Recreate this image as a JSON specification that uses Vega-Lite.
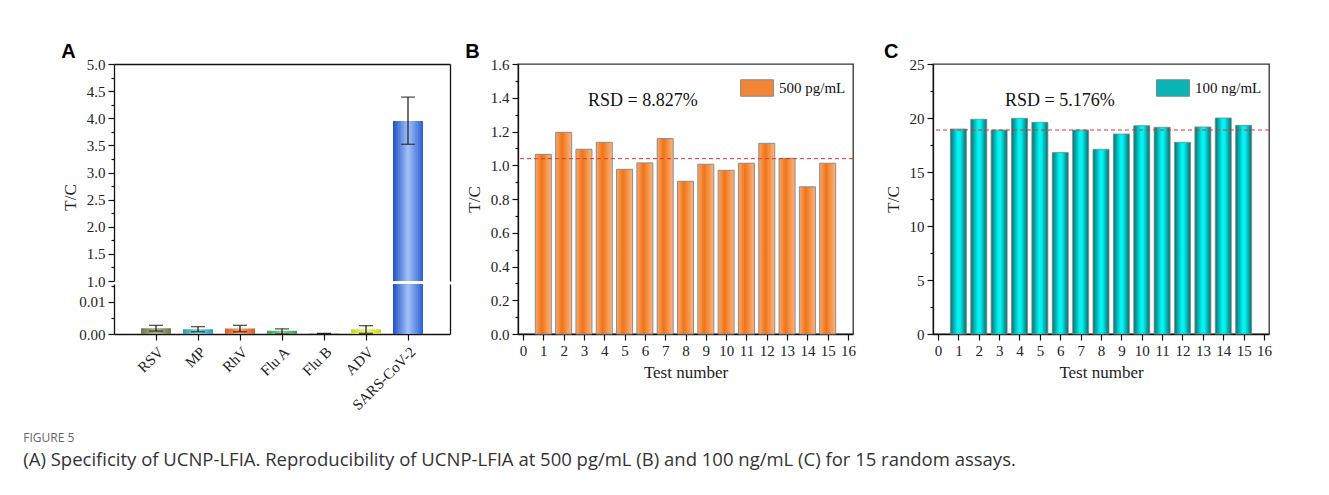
{
  "$schema": "https://vega.github.io/schema/vega-lite/v6.json",
  "background": "white",
  "padding": {"left": 23, "top": 41, "right": 10, "bottom": 10},
  "config": {
    "view": {"stroke": null},
    "font": "Liberation Serif",
    "axis": {"grid": false, "labelOverlap": false, "domainColor": "#111", "domainWidth": 1.3, "tickColor": "#111", "tickWidth": 1.2, "tickSize": 6, "labelFont": "Liberation Serif", "labelFontSize": 15, "labelColor": "#222", "labelPadding": 3, "titleFont": "Liberation Serif", "titleFontSize": 17, "titleFontWeight": "normal", "titleColor": "#222", "titlePadding": 7},
    "title": {"font": "Liberation Sans", "fontSize": 20, "fontWeight": "bold", "color": "#000", "anchor": "start", "frame": "bounds", "offset": -5}
  },
  "title": {
    "text": "FIGURE 5",
    "subtitle": "(A) Specificity of UCNP-LFIA. Reproducibility of UCNP-LFIA at 500 pg/mL (B) and 100 ng/mL (C) for 15 random assays.",
    "orient": "bottom", "anchor": "start", "frame": "bounds", "dx": -38, "offset": 20,
    "font": "Open Sans", "fontSize": 12, "fontWeight": "normal", "color": "#666",
    "subtitleFont": "Open Sans", "subtitleFontSize": 18.5, "subtitleColor": "#333", "subtitlePadding": 6
  },
  "resolve": {"scale": {"color": "independent"}, "legend": {"color": "independent"}},
  "datasets": {
    "a": [
      {"virus": "RSV", "tc": 0.0018, "lo": 0.0009, "hi": 0.0027},
      {"virus": "MP", "tc": 0.0015, "lo": 0.0007, "hi": 0.0023},
      {"virus": "RhV", "tc": 0.0017, "lo": 0.0007, "hi": 0.0027},
      {"virus": "Flu A", "tc": 0.0010, "lo": 0.0000, "hi": 0.0016},
      {"virus": "Flu B", "tc": 0.0001, "lo": 0.0000, "hi": 0.0002},
      {"virus": "ADV", "tc": 0.0015, "lo": 0.0002, "hi": 0.0026},
      {"virus": "SARS-CoV-2", "tc": 3.95, "lo": 3.52, "hi": 4.39}
    ],
    "b": [
      {"test": 1, "tc": 1.065, "series": "500 pg/mL"},
      {"test": 2, "tc": 1.195, "series": "500 pg/mL"},
      {"test": 3, "tc": 1.095, "series": "500 pg/mL"},
      {"test": 4, "tc": 1.136, "series": "500 pg/mL"},
      {"test": 5, "tc": 0.976, "series": "500 pg/mL"},
      {"test": 6, "tc": 1.014, "series": "500 pg/mL"},
      {"test": 7, "tc": 1.158, "series": "500 pg/mL"},
      {"test": 8, "tc": 0.905, "series": "500 pg/mL"},
      {"test": 9, "tc": 1.006, "series": "500 pg/mL"},
      {"test": 10, "tc": 0.970, "series": "500 pg/mL"},
      {"test": 11, "tc": 1.012, "series": "500 pg/mL"},
      {"test": 12, "tc": 1.130, "series": "500 pg/mL"},
      {"test": 13, "tc": 1.041, "series": "500 pg/mL"},
      {"test": 14, "tc": 0.872, "series": "500 pg/mL"},
      {"test": 15, "tc": 1.012, "series": "500 pg/mL"}
    ],
    "c": [
      {"test": 1, "tc": 18.98, "series": "100 ng/mL"},
      {"test": 2, "tc": 19.88, "series": "100 ng/mL"},
      {"test": 3, "tc": 18.89, "series": "100 ng/mL"},
      {"test": 4, "tc": 19.97, "series": "100 ng/mL"},
      {"test": 5, "tc": 19.60, "series": "100 ng/mL"},
      {"test": 6, "tc": 16.80, "series": "100 ng/mL"},
      {"test": 7, "tc": 18.89, "series": "100 ng/mL"},
      {"test": 8, "tc": 17.10, "series": "100 ng/mL"},
      {"test": 9, "tc": 18.52, "series": "100 ng/mL"},
      {"test": 10, "tc": 19.29, "series": "100 ng/mL"},
      {"test": 11, "tc": 19.14, "series": "100 ng/mL"},
      {"test": 12, "tc": 17.75, "series": "100 ng/mL"},
      {"test": 13, "tc": 19.17, "series": "100 ng/mL"},
      {"test": 14, "tc": 20.00, "series": "100 ng/mL"},
      {"test": 15, "tc": 19.32, "series": "100 ng/mL"}
    ]
  },
  "spacing": 14,
  "hconcat": [
    {
      "title": {"text": "A"},
      "spacing": 3,
      "bounds": "flush",
      "vconcat": [
        {
          "width": 336, "height": 217,
          "data": {"name": "a"},
          "transform": [{"filter": "datum.virus === 'SARS-CoV-2'"}],
          "encoding": {
            "x": {"field": "virus", "type": "nominal", "sort": null,
              "scale": {"domain": ["RSV", "MP", "RhV", "Flu A", "Flu B", "ADV", "SARS-CoV-2"], "paddingInner": 0.286, "paddingOuter": 0.643},
              "axis": {"orient": "top", "labels": false, "ticks": false, "title": null}}
          },
          "layer": [
            {
              "mark": {"type": "bar"},
              "encoding": {
                "y": {"field": "tc", "type": "quantitative",
                  "scale": {"domain": [1, 5], "clamp": true, "zero": false, "nice": false},
                  "axis": {"values": [1, 1.25, 1.5, 1.75, 2, 2.25, 2.5, 2.75, 3, 3.25, 3.5, 3.75, 4, 4.25, 4.5, 4.75, 5], "format": ".1f", "labelOverlap": false,
                    "labelExpr": "(datum.value*4) % 2 === 0 ? datum.label : ''",
                    "tickSize": {"condition": {"test": "(datum.value*4) % 2 === 0", "value": 6}, "value": 3},
                    "title": "T/C", "titleY": 133}},
                "color": {"value": {"gradient": "linear", "x1": 0, "x2": 1, "y1": 0, "y2": 0, "stops": [{"offset": 0, "color": "#1f50c4"}, {"offset": 0.5, "color": "#a3c2f9"}, {"offset": 1, "color": "#2c5ed2"}]}}
              }
            },
            {
              "mark": {"type": "rule", "color": "#111", "strokeWidth": 1.2},
              "encoding": {
                "y": {"field": "lo", "type": "quantitative", "axis": {"orient": "right", "labels": false, "ticks": false, "title": null}},
                "y2": {"field": "hi"}
              }
            },
            {
              "mark": {"type": "tick", "orient": "horizontal", "size": 14, "thickness": 1.3, "color": "#111"},
              "encoding": {"y": {"field": "hi", "type": "quantitative", "axis": null}}
            },
            {
              "mark": {"type": "tick", "orient": "horizontal", "size": 14, "thickness": 1.3, "color": "#111"},
              "encoding": {"y": {"field": "lo", "type": "quantitative", "axis": null}}
            }
          ],
          "resolve": {"axis": {"y": "independent"}}
        },
        {
          "width": 336, "height": 50,
          "data": {"name": "a"},
          "encoding": {
            "x": {"field": "virus", "type": "nominal", "sort": null,
              "scale": {"domain": ["RSV", "MP", "RhV", "Flu A", "Flu B", "ADV", "SARS-CoV-2"], "paddingInner": 0.286, "paddingOuter": 0.643},
              "axis": {"labelAngle": -45, "labelAlign": "right", "labelBaseline": "top", "title": null, "labelPadding": 4, "labelOverlap": false}}
          },
          "layer": [
            {
              "mark": {"type": "bar"},
              "encoding": {
                "y": {"field": "tc", "type": "quantitative",
                  "scale": {"domain": [0, 0.0156], "clamp": true, "nice": false},
                  "axis": {"values": [0, 0.005, 0.01, 0.015], "format": ".2f", "labelOverlap": false,
                    "labelExpr": "round(datum.value*1000) % 10 === 0 ? datum.label : ''",
                    "tickSize": {"condition": {"test": "round(datum.value*1000) % 10 === 0", "value": 6}, "value": 3},
                    "title": null}},
                "color": {
                  "condition": [
                    {"test": "datum.virus === 'RSV'", "value": {"gradient": "linear", "x1": 0, "x2": 1, "y1": 0, "y2": 0, "stops": [{"offset": 0, "color": "#6d7a4e"}, {"offset": 0.5, "color": "#aab48c"}, {"offset": 1, "color": "#6d7a4e"}]}},
                    {"test": "datum.virus === 'MP'", "value": {"gradient": "linear", "x1": 0, "x2": 1, "y1": 0, "y2": 0, "stops": [{"offset": 0, "color": "#2d9bb0"}, {"offset": 0.5, "color": "#8fd5e2"}, {"offset": 1, "color": "#2d9bb0"}]}},
                    {"test": "datum.virus === 'RhV'", "value": {"gradient": "linear", "x1": 0, "x2": 1, "y1": 0, "y2": 0, "stops": [{"offset": 0, "color": "#d35e1f"}, {"offset": 0.5, "color": "#f3a878"}, {"offset": 1, "color": "#d35e1f"}]}},
                    {"test": "datum.virus === 'Flu A'", "value": {"gradient": "linear", "x1": 0, "x2": 1, "y1": 0, "y2": 0, "stops": [{"offset": 0, "color": "#3a9a4d"}, {"offset": 0.5, "color": "#90d09c"}, {"offset": 1, "color": "#3a9a4d"}]}},
                    {"test": "datum.virus === 'ADV'", "value": {"gradient": "linear", "x1": 0, "x2": 1, "y1": 0, "y2": 0, "stops": [{"offset": 0, "color": "#cdd41e"}, {"offset": 0.5, "color": "#f2f58a"}, {"offset": 1, "color": "#cdd41e"}]}},
                    {"test": "datum.virus === 'SARS-CoV-2'", "value": {"gradient": "linear", "x1": 0, "x2": 1, "y1": 0, "y2": 0, "stops": [{"offset": 0, "color": "#1f50c4"}, {"offset": 0.5, "color": "#a3c2f9"}, {"offset": 1, "color": "#2c5ed2"}]}}
                  ],
                  "value": "#666666"
                }
              }
            },
            {
              "transform": [{"filter": "datum.virus !== 'SARS-CoV-2'"}],
              "mark": {"type": "rule", "color": "#111", "strokeWidth": 1.2},
              "encoding": {
                "y": {"field": "lo", "type": "quantitative", "axis": {"orient": "right", "labels": false, "ticks": false, "title": null}},
                "y2": {"field": "hi"}
              }
            },
            {
              "transform": [{"filter": "datum.virus !== 'SARS-CoV-2'"}],
              "mark": {"type": "tick", "orient": "horizontal", "size": 14, "thickness": 1.3, "color": "#111"},
              "encoding": {"y": {"field": "hi", "type": "quantitative", "axis": null}}
            },
            {
              "transform": [{"filter": "datum.virus !== 'SARS-CoV-2'"}],
              "mark": {"type": "tick", "orient": "horizontal", "size": 14, "thickness": 1.3, "color": "#111"},
              "encoding": {"y": {"field": "lo", "type": "quantitative", "axis": null}}
            }
          ],
          "resolve": {"axis": {"y": "independent"}}
        }
      ]
    },
    {
      "spacing": 26,
      "resolve": {"scale": {"color": "independent"}, "legend": {"color": "independent"}},
      "hconcat": [
        {
          "title": {"text": "B"},
          "width": 335, "height": 270,
          "view": {"stroke": "#333", "strokeWidth": 1.3},
          "data": {"name": "b"},
          "layer": [
            {
              "mark": {"type": "bar", "width": 16, "stroke": "#8c8c8c", "strokeWidth": 1,
                "fill": {"gradient": "linear", "x1": 0, "x2": 1, "y1": 0, "y2": 0, "stops": [{"offset": 0, "color": "#f9a86a"}, {"offset": 0.4, "color": "#f07418"}, {"offset": 1, "color": "#fbb581"}]}},
              "encoding": {
                "x": {"field": "test", "type": "quantitative", "scale": {"domain": [0, 16], "nice": false},
                  "axis": {"values": [0, 1, 2, 3, 4, 5, 6, 7, 8, 9, 10, 11, 12, 13, 14, 15, 16], "format": "d", "title": "Test number", "labelFlush": false, "labelOverlap": false, "titlePadding": 6}},
                "y": {"field": "tc", "type": "quantitative", "scale": {"domain": [0, 1.6], "nice": false},
                  "axis": {"values": [0, 0.1, 0.2, 0.3, 0.4, 0.5, 0.6, 0.7, 0.8, 0.9, 1.0, 1.1, 1.2, 1.3, 1.4, 1.5, 1.6], "format": ".1f", "labelOverlap": false,
                    "labelExpr": "round(datum.value*10) % 2 === 0 ? datum.label : ''",
                    "tickSize": {"condition": {"test": "round(datum.value*10) % 2 === 0", "value": 6}, "value": 3},
                    "labelFlush": false, "title": "T/C"}}
              }
            },
            {
              "mark": {"type": "rule", "color": "#e8322e", "strokeDash": [4, 3], "strokeWidth": 1},
              "encoding": {"y": {"aggregate": "mean", "field": "tc", "type": "quantitative",
                  "axis": {"values": [0, 0.1, 0.2, 0.3, 0.4, 0.5, 0.6, 0.7, 0.8, 0.9, 1.0, 1.1, 1.2, 1.3, 1.4, 1.5, 1.6], "format": ".1f", "labelOverlap": false,
                    "labelExpr": "round(datum.value*10) % 2 === 0 ? datum.label : ''",
                    "tickSize": {"condition": {"test": "round(datum.value*10) % 2 === 0", "value": 6}, "value": 3},
                    "labelFlush": false, "title": "T/C"}}}
            },
            {
              "transform": [{"filter": "datum.test === 1"}],
              "mark": {"type": "text", "font": "Liberation Serif", "fontSize": 18, "align": "left", "baseline": "middle", "color": "#111"},
              "encoding": {
                "x": {"datum": 3.2, "type": "quantitative",
                  "axis": {"values": [0, 1, 2, 3, 4, 5, 6, 7, 8, 9, 10, 11, 12, 13, 14, 15, 16], "format": "d", "title": "Test number", "labelFlush": false, "labelOverlap": false, "titlePadding": 6}},
                "y": {"datum": 1.381, "type": "quantitative",
                  "axis": {"values": [0, 0.1, 0.2, 0.3, 0.4, 0.5, 0.6, 0.7, 0.8, 0.9, 1.0, 1.1, 1.2, 1.3, 1.4, 1.5, 1.6], "format": ".1f", "labelOverlap": false,
                    "labelExpr": "round(datum.value*10) % 2 === 0 ? datum.label : ''",
                    "tickSize": {"condition": {"test": "round(datum.value*10) % 2 === 0", "value": 6}, "value": 3},
                    "labelFlush": false, "title": "T/C"}},
                "text": {"value": "RSD = 8.827%"}}
            },
            {
              "mark": {"type": "square", "opacity": 0},
              "encoding": {
                "x": {"field": "test", "type": "quantitative",
                  "axis": {"values": [0, 1, 2, 3, 4, 5, 6, 7, 8, 9, 10, 11, 12, 13, 14, 15, 16], "format": "d", "title": "Test number", "labelFlush": false, "labelOverlap": false, "titlePadding": 6}},
                "y": {"field": "tc", "type": "quantitative",
                  "axis": {"values": [0, 0.1, 0.2, 0.3, 0.4, 0.5, 0.6, 0.7, 0.8, 0.9, 1.0, 1.1, 1.2, 1.3, 1.4, 1.5, 1.6], "format": ".1f", "labelOverlap": false,
                    "labelExpr": "round(datum.value*10) % 2 === 0 ? datum.label : ''",
                    "tickSize": {"condition": {"test": "round(datum.value*10) % 2 === 0", "value": 6}, "value": 3},
                    "labelFlush": false, "title": "T/C"}},
                "color": {"field": "series", "type": "nominal", "scale": {"range": ["#f28536"]},
                  "legend": {"title": null, "orient": "top-right", "offset": 7, "padding": 0,
                    "symbolType": "M-1,-0.5H1V0.5H-1Z", "symbolSize": 1089, "symbolStrokeColor": "#8c8c8c", "symbolStrokeWidth": 1, "symbolOpacity": 1,
                    "labelFont": "Liberation Serif", "labelFontSize": 15, "labelColor": "#111", "labelOffset": 5}}
              }
            }
          ]
        },
        {
          "title": {"text": "C"},
          "width": 336, "height": 270,
          "view": {"stroke": "#333", "strokeWidth": 1.3},
          "data": {"name": "c"},
          "layer": [
            {
              "mark": {"type": "bar", "width": 16, "stroke": "#6f8f8f", "strokeWidth": 0.8,
                "fill": {"gradient": "linear", "x1": 0, "x2": 1, "y1": 0, "y2": 0, "stops": [{"offset": 0, "color": "#0e6f6f"}, {"offset": 0.45, "color": "#00f5f5"}, {"offset": 0.6, "color": "#05f0f0"}, {"offset": 1, "color": "#0d6b6b"}]}},
              "encoding": {
                "x": {"field": "test", "type": "quantitative", "scale": {"domain": [0, 16], "nice": false},
                  "axis": {"values": [0, 1, 2, 3, 4, 5, 6, 7, 8, 9, 10, 11, 12, 13, 14, 15, 16], "format": "d", "title": "Test number", "labelFlush": false, "labelOverlap": false, "titlePadding": 6}},
                "y": {"field": "tc", "type": "quantitative", "scale": {"domain": [0, 25], "nice": false},
                  "axis": {"values": [0, 2.5, 5, 7.5, 10, 12.5, 15, 17.5, 20, 22.5, 25], "format": "d", "labelOverlap": false,
                    "labelExpr": "datum.value % 5 === 0 ? datum.label : ''",
                    "tickSize": {"condition": {"test": "datum.value % 5 === 0", "value": 6}, "value": 3},
                    "labelFlush": false, "title": "T/C"}}
              }
            },
            {
              "mark": {"type": "rule", "color": "#e8322e", "strokeDash": [4, 3], "strokeWidth": 1},
              "encoding": {"y": {"aggregate": "mean", "field": "tc", "type": "quantitative",
                  "axis": {"values": [0, 2.5, 5, 7.5, 10, 12.5, 15, 17.5, 20, 22.5, 25], "format": "d", "labelOverlap": false,
                    "labelExpr": "datum.value % 5 === 0 ? datum.label : ''",
                    "tickSize": {"condition": {"test": "datum.value % 5 === 0", "value": 6}, "value": 3},
                    "labelFlush": false, "title": "T/C"}}}
            },
            {
              "transform": [{"filter": "datum.test === 1"}],
              "mark": {"type": "text", "font": "Liberation Serif", "fontSize": 18, "align": "left", "baseline": "middle", "color": "#111"},
              "encoding": {
                "x": {"datum": 3.29, "type": "quantitative",
                  "axis": {"values": [0, 1, 2, 3, 4, 5, 6, 7, 8, 9, 10, 11, 12, 13, 14, 15, 16], "format": "d", "title": "Test number", "labelFlush": false, "labelOverlap": false, "titlePadding": 6}},
                "y": {"datum": 21.57, "type": "quantitative",
                  "axis": {"values": [0, 2.5, 5, 7.5, 10, 12.5, 15, 17.5, 20, 22.5, 25], "format": "d", "labelOverlap": false,
                    "labelExpr": "datum.value % 5 === 0 ? datum.label : ''",
                    "tickSize": {"condition": {"test": "datum.value % 5 === 0", "value": 6}, "value": 3},
                    "labelFlush": false, "title": "T/C"}},
                "text": {"value": "RSD = 5.176%"}}
            },
            {
              "mark": {"type": "square", "opacity": 0},
              "encoding": {
                "x": {"field": "test", "type": "quantitative",
                  "axis": {"values": [0, 1, 2, 3, 4, 5, 6, 7, 8, 9, 10, 11, 12, 13, 14, 15, 16], "format": "d", "title": "Test number", "labelFlush": false, "labelOverlap": false, "titlePadding": 6}},
                "y": {"field": "tc", "type": "quantitative",
                  "axis": {"values": [0, 2.5, 5, 7.5, 10, 12.5, 15, 17.5, 20, 22.5, 25], "format": "d", "labelOverlap": false,
                    "labelExpr": "datum.value % 5 === 0 ? datum.label : ''",
                    "tickSize": {"condition": {"test": "datum.value % 5 === 0", "value": 6}, "value": 3},
                    "labelFlush": false, "title": "T/C"}},
                "color": {"field": "series", "type": "nominal", "scale": {"range": ["#0ab5b5"]},
                  "legend": {"title": null, "orient": "top-right", "offset": 7, "padding": 0,
                    "symbolType": "M-1,-0.5H1V0.5H-1Z", "symbolSize": 1089, "symbolStrokeColor": "#6f8f8f", "symbolStrokeWidth": 1, "symbolOpacity": 1,
                    "labelFont": "Liberation Serif", "labelFontSize": 15, "labelColor": "#111", "labelOffset": 5}}
              }
            }
          ]
        }
      ]
    }
  ]
}
